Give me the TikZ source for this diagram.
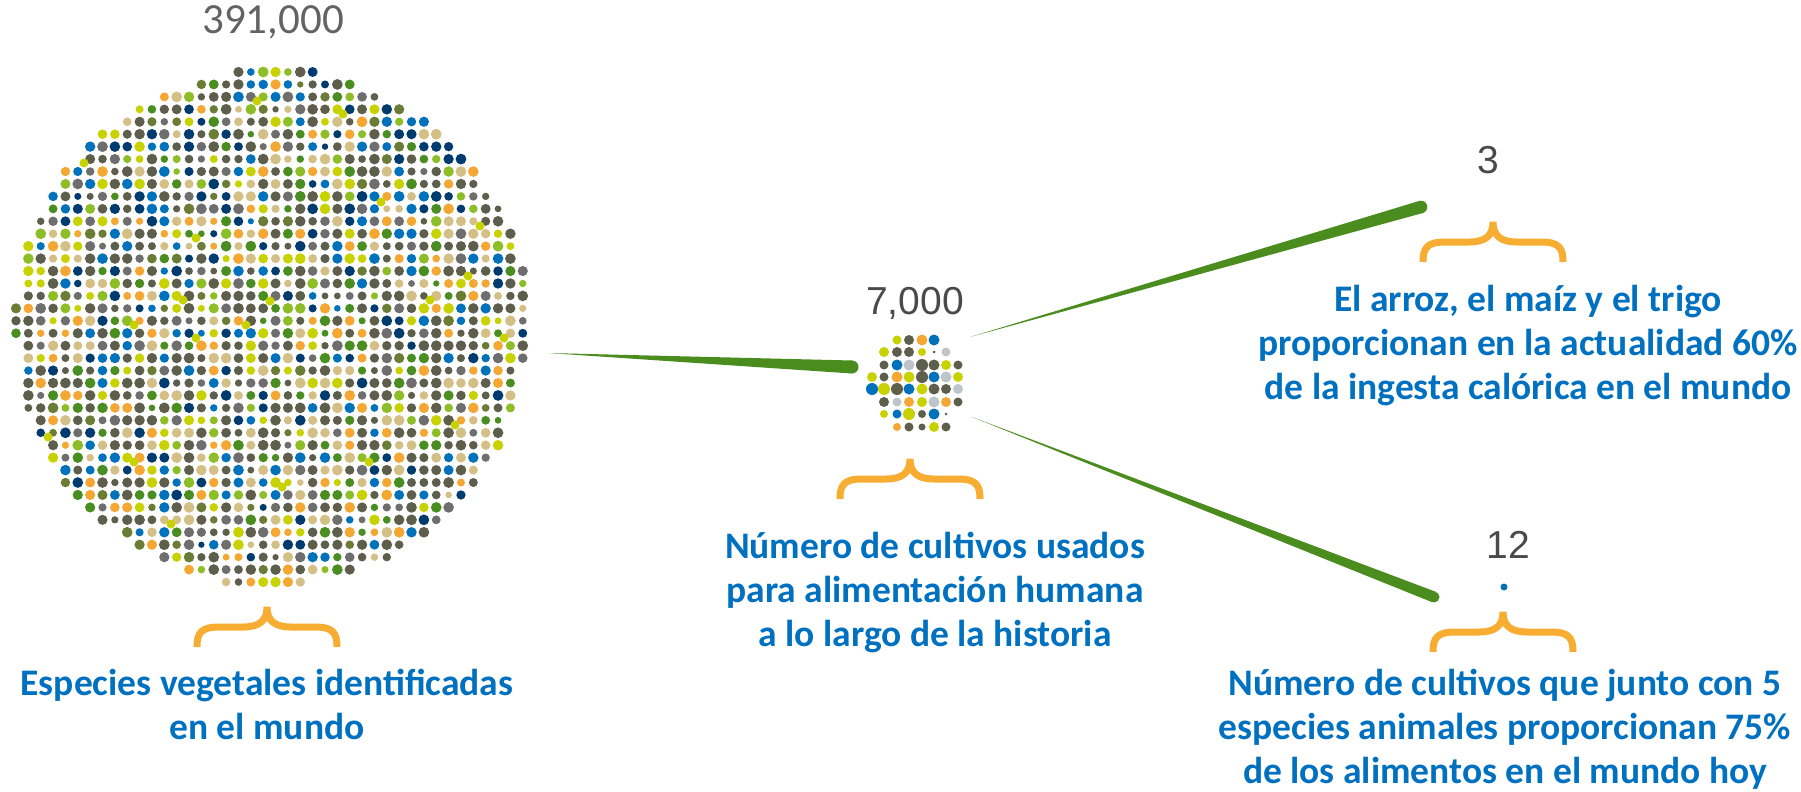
\documentclass[tikz,border=0pt]{standalone}
\usepackage{fontspec}
\setmainfont{Carlito}
\newfontfamily\numfont{Liberation Sans}
\usetikzlibrary{calc}

\definecolor{dkolive}{HTML}{5E5E4C}
\definecolor{midgray}{HTML}{6E6E6E}
\definecolor{sand}{HTML}{D4BF86}
\definecolor{navy}{HTML}{003B6F}
\definecolor{ptblue}{HTML}{0072BC}
\definecolor{orng}{HTML}{F5A733}
\definecolor{leaf}{HTML}{4A8E22}
\definecolor{moss}{HTML}{6B7C36}
\definecolor{lime}{HTML}{C8D200}
\definecolor{ygreen}{HTML}{8DBE27}
\definecolor{pale}{HTML}{BDC4CA}
\definecolor{textblue}{HTML}{0070C0}
\definecolor{bracecol}{HTML}{F7AC32}
\definecolor{stemgreen}{HTML}{4B8C1F}
\definecolor{numgray}{HTML}{4A4A4A}

\def\palette{{"dkolive","dkolive","dkolive","dkolive","dkolive","dkolive","dkolive","midgray","midgray","sand","sand","sand","navy","navy","ptblue","ptblue","orng","orng","leaf","leaf","moss","lime","ygreen","lime"}}

% tapered green stem: from (#1) thin to (#2) thick
\newcommand{\taper}[3]{%
  \fill[stemgreen] (#1) -- ($(#2)!#3!90:(#1)$) -- ($(#2)!#3!-90:(#1)$) -- cycle;
  \fill[stemgreen] (#2) circle (#3);
}

\tikzset{
  caption/.style={font=\bfseries\fontsize{37.5}{44}\selectfont, text=textblue,
    align=center, anchor=base, inner sep=0pt},
  count/.style={font=\numfont\fontsize{39}{44}\selectfont, text=numgray,
    anchor=base, inner sep=0pt},
  upbrace/.pic={
    \draw[bracecol, line width=7pt] (-70,40) .. controls (-70,26) and (-66,20) .. (-48,20)
      -- (-24,20) .. controls (-8,20) and (0,14) .. (0,0)
      .. controls (0,14) and (8,20) .. (24,20) -- (48,20)
      .. controls (66,20) and (70,26) .. (70,40);
  }
}

\begin{document}
\begin{tikzpicture}[x=1pt, y=-1pt]
\useasboundingbox (0,0) rectangle (1801,792);

% big field of dots
\pgfmathsetseed{391}
\foreach \r/\a/\b in {0/18/24, 1/15/27, 2/12/29, 3/10/31, 4/9/33, 5/7/34, 6/6/35,
    7/6/36, 8/4/37, 9/4/37, 10/3/38, 11/3/39, 12/2/39, 13/2/40, 14/1/40, 15/1/40,
    16/1/41, 17/1/41, 18/1/41, 19/0/41, 20/0/41, 21/0/41, 22/1/41, 23/1/41,
    24/1/40, 25/1/40, 26/1/40, 27/1/40, 28/2/39, 29/2/39, 30/3/39, 31/3/38,
    32/4/37, 33/4/37, 34/5/36, 35/6/35, 36/7/34, 37/9/33, 38/10/31, 39/12/30,
    40/14/27, 41/17/23}{
  \foreach \c in {\a,...,\b}{
    \pgfmathrandominteger{\k}{0}{23}
    \pgfmathsetmacro{\dc}{\palette[\k]}
    \pgfmathsetmacro{\rad}{5.4-2.4*rnd*rnd}
    \fill[\dc] (16+12.36*\c, 72+12.44*\r) circle (\rad pt);
  }
}
\foreach \x/\y in {257/101, 343/114, 84/163, 381/202, 480/226, 196/238, 468/276,
    183/300, 270/301, 430/300, 134/325, 246/325, 196/338, 504/338, 48/437,
    455/425, 134/462, 369/462, 282/487, 171/524}
  \fill[lime] (\x,\y) circle (4.5pt);

% small cluster
\foreach \x/\y/\c/\r in {897/340/lime/4.5, 909/340/dkolive/5, 922/340/orng/5.5, 934/340/ptblue/5.5,
    884/352/lime/5, 897/352/dkolive/5, 909/352/dkolive/5, 922/352/lime/4, 934/352/dkolive/1.5, 946/352/pale/4.5,
    884/365/dkolive/4.5, 897/365/ptblue/5.5, 909/365/pale/5.5, 922/365/dkolive/6, 934/365/dkolive/5.5, 946/365/lime/5, 958/365/dkolive/4.5,
    872/377/lime/5, 884/377/dkolive/4.5, 897/377/orng/5.5, 909/377/lime/5.5, 922/377/dkolive/6, 934/377/ptblue/5.5, 946/377/pale/5.5, 958/377/lime/5,
    872/389/ptblue/6, 884/389/lime/6, 897/389/dkolive/6, 909/389/ptblue/5.5, 922/389/lime/5.5, 934/389/dkolive/5.5, 946/389/dkolive/5, 958/389/pale/5,
    884/402/dkolive/5, 897/402/pale/4.5, 909/402/orng/5, 922/402/lime/5, 934/402/pale/5.5, 946/402/orng/5, 958/402/dkolive/4.5,
    884/414/lime/4, 897/414/ptblue/4.5, 909/414/lime/6, 922/414/dkolive/4, 934/414/ptblue/5.5, 946/414/dkolive/1.5,
    897/427/orng/4, 909/427/dkolive/4.5, 922/427/dkolive/3.5, 934/427/lime/5, 946/427/dkolive/4.5}
  \fill[\c] (\x,\y) circle (\r pt);

% counts
\node[count, font=\fontsize{43}{48}\selectfont, text=midgray!90!black] (bignum) at (273,34) {391,000};
\node[count] (midnum) at (915,314) {7,000};
\node[count] (topnum) at (1488,173) {3};
\node[count] (lownum) at (1508,558) {12};
\node[circle, fill=ptblue, inner sep=0pt, minimum size=7pt] (lowdot) at (1504,587) {};

% stems
\coordinate (bigout) at (548,353);
\coordinate (midin) at (852,367);
\coordinate (midup) at (970,337);
\coordinate (topin) at (1421,207);
\coordinate (middown) at (972,417);
\coordinate (lowin) at (1434,597);
\taper{bigout}{midin}{6.5pt}
\taper{midup}{topin}{6.3pt}
\taper{middown}{lowin}{5.5pt}

% braces
\pic at (267,607) {upbrace};
\pic at (910,459) {upbrace};
\pic at (1493,222) {upbrace};
\pic at (1503,612) {upbrace};

% captions (anchored at the last line)
\node[caption] (bigtext) at (267,739) {Especies vegetales identificadas\\en el mundo};
\node[caption] (midtext) at (935,646) {Número de cultivos usados\\para alimentación humana\\a lo largo de la historia};
\node[caption] (toptext) at (1528,399) {El arroz, el maíz y el trigo\\proporcionan en la actualidad 60\%\\de la ingesta calórica en el mundo};
\node[caption] (lowtext) at (1505,783) {Número de cultivos que junto con 5\\especies animales proporcionan 75\%\\de los alimentos en el mundo hoy};
\end{tikzpicture}
\end{document}
